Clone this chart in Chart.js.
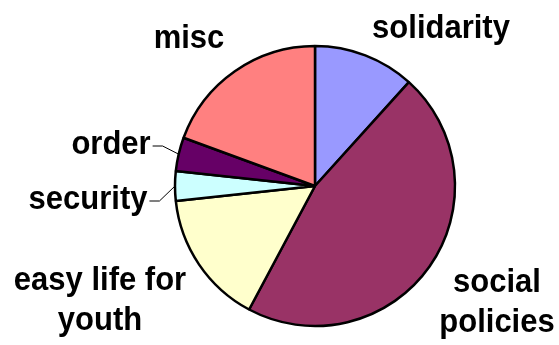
<!DOCTYPE html>
<html>
<head>
<meta charset="utf-8">
<script src="https://cdn.jsdelivr.net/npm/chart.js@4"></script>
<style>
  html, body { margin: 0; padding: 0; background: #fff; }
  #wrap { width: 559px; height: 345px; }
</style>
</head>
<body>
<div id="wrap"><canvas id="myChart" width="559" height="345"></canvas></div>
<script>
'use strict';

// data (share of the pie, percent)
const categories = ['solidarity', 'social policies', 'easy life for youth', 'security', 'order', 'misc'];
const shares = [11.7, 46.1, 15.5, 3.4, 3.9, 19.4];
const sliceColors = ['#9999FF', '#993366', '#FFFFCC', '#CCFFFF', '#660066', '#FF8080'];

// label text lines, and where each sits (center x, first baseline y)
const labelLines = [['solidarity'], ['social', 'policies'], ['easy life for', 'youth'], ['security'], ['order'], ['misc']];
const labelPos = [[441, 38], [497, 292], [100, 290], [88, 209], [111, 154], [189, 48]];
const leaderFor = [false, false, false, true, true, false];
const LINE_GAP = 40;
const Y_STRETCH = 1.1;

const labelPlugin = {
    id: 'sliceLabels',
    afterDraw: function(chart){
        const ctx = chart.ctx;
        const arcs = chart.getDatasetMeta(0).data;
        ctx.save();
        ctx.font = 'bold 31px "Liberation Sans", Arial, sans-serif';
        ctx.fillStyle = '#000';
        ctx.textAlign = 'center';
        ctx.textBaseline = 'alphabetic';
        for( var i = 0 ; i < arcs.length ; i++ ){
            var lines = labelLines[i];
            var pos = labelPos[i];
            var maxW = 0;
            for( var j = 0 ; j < lines.length ; j++ ){
                ctx.save();
                ctx.translate(pos[0], pos[1] + j * LINE_GAP);
                ctx.scale(1, Y_STRETCH);
                ctx.fillText(lines[j], 0, 0);
                ctx.restore();
                maxW = Math.max(maxW, ctx.measureText(lines[j]).width);
            }
            if( leaderFor[i] ){
                var arc = arcs[i];
                var p = arc.getProps(['x', 'y', 'startAngle', 'endAngle', 'outerRadius']);
                var mid = (p.startAngle + p.endAngle) / 2;
                var ex = p.x + Math.cos(mid) * p.outerRadius;
                var ey = p.y + Math.sin(mid) * p.outerRadius;
                var sx = pos[0] + maxW / 2 + 2;
                var ly = pos[1] - 8;
                ctx.beginPath();
                ctx.lineWidth = 1;
                ctx.strokeStyle = '#000';
                ctx.moveTo(sx, ly);
                ctx.lineTo(sx + 10, ly);
                ctx.lineTo(ex, ey);
                ctx.stroke();
            }
        }
        ctx.restore();
    }
};

const ctx = document.getElementById('myChart');
var myChart = new Chart(ctx, {
    type: 'pie',
    data: {
        labels: categories,
        datasets: [{
            data: shares,
            backgroundColor: sliceColors,
            borderColor: '#000000',
            borderWidth: 2.5,
            hoverOffset: 0
        }]
    },
    options: {
        responsive: false,
        animation: false,
        radius: 140,
        layout: {
            padding: { left: 71, right: 0, top: 27, bottom: 0 }
        },
        plugins: {
            legend: { display: false },
            tooltip: { enabled: false }
        }
    },
    plugins: [labelPlugin]
});
</script>
</body>
</html>
